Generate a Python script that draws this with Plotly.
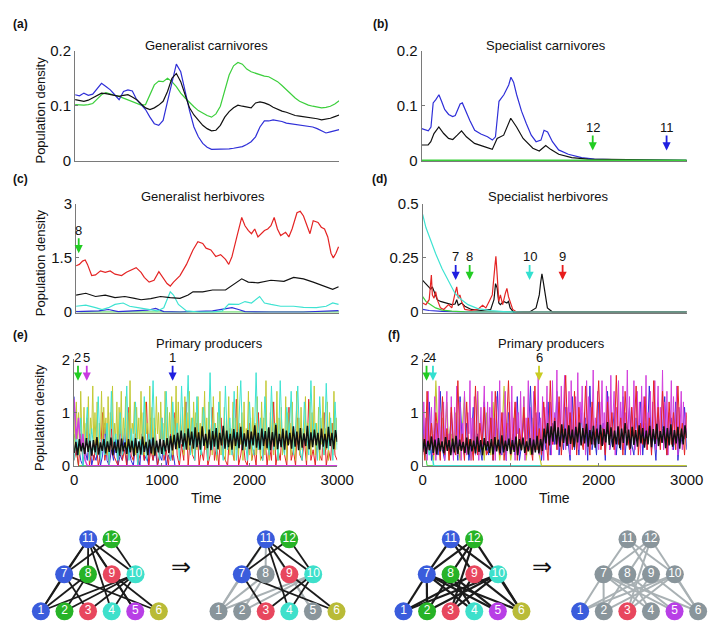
import numpy as np
import plotly.graph_objects as go

W, H = 720, 621

# ------------------------------------------------------------------ data
# (a) Generalist carnivores, t step 50
t_a = list(range(0, 3001, 50))
blue_a = [0.120,0.118,0.123,0.119,0.121,0.130,0.141,0.135,0.129,0.120,0.111,0.126,0.129,0.127,0.111,0.102,0.093,0.079,0.067,0.064,
          0.073,0.108,0.144,0.176,0.162,0.126,0.091,0.061,0.043,0.031,0.024,0.020,0.020,0.020,0.021,0.021,0.022,0.023,0.025,0.029,
          0.034,0.043,0.061,0.072,0.072,0.074,0.073,0.071,0.068,0.067,0.066,0.065,0.064,0.063,0.061,0.058,0.054,0.050,0.052,0.054,0.056]
green_a = [0.102,0.101,0.101,0.102,0.104,0.112,0.120,0.124,0.121,0.119,0.117,0.114,0.111,0.108,0.105,0.101,0.102,0.120,0.138,0.145,
           0.144,0.150,0.144,0.135,0.123,0.114,0.105,0.098,0.091,0.086,0.082,0.079,0.085,0.099,0.126,0.156,0.173,0.179,0.176,0.167,
           0.162,0.159,0.156,0.154,0.153,0.149,0.144,0.137,0.129,0.121,0.114,0.108,0.104,0.101,0.099,0.097,0.096,0.097,0.099,0.103,0.109]
black_a = [0.111,0.110,0.108,0.110,0.114,0.119,0.123,0.122,0.120,0.118,0.117,0.119,0.120,0.116,0.111,0.103,0.096,0.093,0.096,0.101,
           0.108,0.126,0.150,0.159,0.144,0.120,0.096,0.083,0.073,0.064,0.058,0.054,0.055,0.064,0.079,0.089,0.096,0.101,0.099,0.097,
           0.096,0.105,0.107,0.105,0.102,0.097,0.093,0.090,0.088,0.085,0.082,0.081,0.080,0.078,0.077,0.076,0.074,0.075,0.077,0.080,0.083]

# (b) Specialist carnivores
t_blue_b = [0,50,75,105,130,160,195,225,260,305,350,380,405,435,460,490,545,600,670,745,800,835,875,930,985,1010,1040,1075,
            1130,1185,1240,1295,1350,1385,1425,1480,1550,1660,1810,1955,2250,3000]
blue_b = [0.058,0.055,0.054,0.061,0.105,0.111,0.120,0.108,0.093,0.084,0.080,0.082,0.093,0.103,0.105,0.093,0.073,0.055,0.048,0.043,
          0.037,0.043,0.108,0.120,0.138,0.152,0.143,0.120,0.090,0.067,0.046,0.034,0.037,0.055,0.052,0.034,0.019,0.011,0.005,0.002,0.001,0.0]
t_black_b = [0,73,103,139,194,249,304,352,403,451,506,598,708,799,854,928,1008,1074,1148,1258,1331,1404,1459,1551,1698,1881,3000]
black_b = [0.028,0.028,0.034,0.049,0.061,0.049,0.040,0.038,0.046,0.054,0.043,0.031,0.025,0.020,0.040,0.046,0.077,0.061,0.040,
           0.022,0.017,0.027,0.020,0.011,0.005,0.002,0.0]
t_green_b = [0, 3000]
green_b = [0.0, 0.0]

# (c) Generalist herbivores
t_red_c = [0,37,74,104,130,178,222,278,333,389,444,519,574,648,685,741,778,833,889,944,1000,1037,1074,1111,1185,1259,1333,
           1389,1444,1482,1537,1593,1648,1704,1741,1778,1833,1889,1926,1963,2000,2037,2074,2111,2148,2185,2222,2259,2296,2333,
           2389,2426,2463,2519,2556,2593,2630,2667,2704,2759,2796,2833,2870,2907,2933,2963,2993]
red_c = [1.28,1.32,1.41,1.44,1.32,1.01,1.03,1.14,1.10,1.14,1.05,1.01,1.10,1.19,1.23,1.10,0.96,0.83,0.88,1.12,0.92,0.79,0.72,0.83,
         1.01,1.32,1.72,1.95,1.90,1.77,1.72,1.54,1.59,1.46,1.32,1.54,2.08,2.62,2.39,2.26,2.17,2.30,2.08,2.17,2.26,2.30,2.39,2.62,
         2.30,2.12,2.21,2.08,2.30,2.75,2.79,2.66,2.39,2.17,2.53,2.48,2.35,2.30,2.08,1.63,1.50,1.63,1.81]
t_black_c = [0,111,222,333,444,556,667,741,852,963,1074,1185,1278,1333,1444,1556,1704,1815,1889,1963,2074,2222,2370,2481,2593,
             2704,2815,2926,2993]
black_c = [0.47,0.52,0.43,0.47,0.40,0.43,0.38,0.34,0.37,0.43,0.40,0.38,0.47,0.56,0.56,0.61,0.61,0.79,0.92,0.83,0.81,0.88,0.85,
           0.96,0.92,0.83,0.74,0.63,0.70]
t_cyan_c = [0,111,222,296,370,444,537,611,704,815,926,1000,1037,1074,1111,1167,1259,1407,1556,1667,1741,1852,1926,2000,2093,
            2148,2222,2333,2481,2593,2741,2852,2926,2993]
cyan_c = [0.16,0.19,0.12,0.07,0.12,0.21,0.25,0.16,0.12,0.07,0.03,0.12,0.34,0.56,0.47,0.21,0.03,0.0,0.0,0.03,0.22,0.21,0.29,0.25,
          0.43,0.25,0.21,0.16,0.16,0.13,0.12,0.16,0.25,0.21]
t_blue_c = [0,259,370,480,815,907,1000,1185,1556,1778,1852,1926,2222,2593,2993]
blue_c = [0.01,0.03,0.07,0.01,0.05,0.10,0.01,0.0,0.03,0.12,0.07,0.01,0.0,0.0,0.04]
t_green_c = [0, 60, 3000]
green_c = [0.02, 0.0, 0.0]

# (d) Specialist herbivores
t_cyan_d = [0,37,92,147,221,294,368,442,515,626,773,957,1141,3000]
cyan_d = [0.451,0.39,0.33,0.27,0.20,0.14,0.086,0.057,0.034,0.016,0.007,0.001,0.0,0.0]
t_black_d = [0,37,74,92,110,129,166,202,258,331,368,387,405,442,479,552,663,773,810,828,847,865,883,920,957,975,994,1031,
             1141,1215,1288,1325,1340,1355,1370,1380,1417,1472,1620,3000]
black_d = [0.146,0.131,0.116,0.106,0.116,0.094,0.057,0.049,0.042,0.034,0.037,0.057,0.031,0.042,0.027,0.012,0.007,0.012,0.057,
           0.131,0.109,0.042,0.034,0.049,0.042,0.049,0.019,0.001,0.0,0.0,0.019,0.079,0.135,0.176,0.140,0.109,0.019,0.001,0.0,0.0]
t_red_d = [0,37,74,92,99,110,129,147,166,202,239,294,331,368,387,405,423,442,479,552,626,681,718,755,791,821,832,847,865,883,
           909,939,957,975,994,1023,1067,3000]
red_d = [0.042,0.034,0.057,0.131,0.171,0.079,0.064,0.094,0.057,0.019,0.012,0.034,0.019,0.086,0.116,0.064,0.079,0.049,0.012,
         0.007,0.012,0.031,0.019,0.049,0.079,0.213,0.257,0.168,0.049,0.079,0.034,0.086,0.109,0.071,0.049,0.012,0.0,0.0]
t_green_d = [0,37,92,147,221,331,479,700,3000]
green_d = [0.071,0.049,0.034,0.019,0.009,0.004,0.001,0.0,0.0]
t_blue_d = [0,74,221,400,3000]
blue_d = [0.012,0.007,0.003,0.0,0.0]

# (e) Primary producers (left web); sampled every 12.5, 25 and 20 time units
t12 = [i * 12.5 for i in range(241)]
t25 = list(range(0, 3001, 25))
t20 = list(range(0, 3001, 20))
olive_e = [0.9,0.3,1.2,0.5,1.0,0.2,1.4,0.6,0.4,1.1,0.3,0.8,0.5,1.3,0.2,0.9,0.6,1.5,0.3,1.0,
           0.4,1.2,0.2,0.8,0.5,1.4,0.3,1.1,0.6,0.9,0.2,1.3,0.4,1.0,0.7,1.5,0.3,0.8,0.5,1.2,
           0.2,1.1,0.6,1.4,0.3,0.9,0.5,1.3,0.2,1.0,0.4,1.6,0.3,0.8,0.6,1.2,0.2,1.1,0.5,0.9,
           0.3,1.4,0.4,1.0,0.2,1.2,0.6,0.8,0.3,1.5,0.5,1.1,0.2,0.9,0.4,1.3,0.6,1.0,0.3,1.2,
           0.5,0.8,0.2,1.4,0.4,1.1,0.3,1.0,0.6,1.3,0.2,0.9,0.5,1.5,0.3,1.2,0.4,0.8,0.6,1.1,
           0.2,1.3,0.4,1.0,0.3,1.4,0.5,0.9,0.2,1.2,0.6,1.0,0.3,1.3,0.4,0.8,0.2,1.1,0.5,1.4,
           0.3,0.9,0.1,1.2,0.4,0.7,0.2,1.3,0.5,0.8,0.1,1.0,0.3,1.4,0.2,0.6,0.4,1.1,0.1,0.9,
           0.3,1.3,0.2,0.7,0.5,1.2,0.1,0.9,0.3,1.5,0.2,0.8,0.4,1.0,0.1,1.2,0.3,0.7,0.5,1.4,
           0.2,0.9,0.1,1.1,0.4,0.8,0.2,1.3,0.3,0.6,0.1,1.2,0.5,0.9,0.2,1.6,0.3,0.7,0.1,1.0,
           0.4,1.2,0.2,0.8,0.3,1.4,0.1,0.9,0.5,1.1,0.2,0.7,0.3,1.3,0.1,1.0,0.4,0.8,0.2,1.2,
           0.3,0.6,0.1,1.4,0.4,0.9,0.2,1.1,0.3,0.7,0.5,1.3,0.1,0.8,0.3,1.2,0.2,1.0,0.4,1.5,
           0.2,0.8,0.3,1.1,0.1,0.9,0.4,1.3,0.2,0.7,0.3,1.2,0.1,1.0,0.5,0.8,0.2,1.4,0.3,0.9, 0.4]
cyan_e = [0.1,0.6,0.2,0.9,0.0,0.4,1.1,0.1,0.7,0.3, 0.2,1.3,0.1,0.5,0.2,0.8,0.0,1.4,0.3,0.6,
          0.1,1.0,0.2,0.4,1.5,0.1,0.7,0.3,1.2,0.0, 0.5,0.2,1.3,0.1,0.6,0.3,1.6,0.2,0.4,0.1,
          0.9,0.2,1.4,0.3,0.1,1.2,0.4,0.8,0.1,1.5, 0.3,0.6,1.7,0.2,0.9,0.1,1.3,0.4,0.2,1.1,
          0.6,0.1,1.75,0.3,0.8,0.2,1.2,0.5,0.1,1.5, 0.3,0.9,0.2,1.4,0.1,0.7,1.6,0.3,0.5,0.1,
          1.2,0.4,0.2,1.75,0.3,0.9,0.1,1.3,0.6,0.2, 1.5,0.3,0.8,0.1,1.6,0.4,0.2,1.1,0.5,1.4,
          0.2,0.7,1.5,0.3,0.1,1.2,0.6,0.2,1.6,0.4, 0.8,0.1,1.3,0.5,0.2,1.55,0.3,0.9,0.1,1.2, 0.3]
red_e = [0.1,0.3,0.0,0.6,0.1,0.2,0.9,0.0,0.3,0.1, 0.5,0.0,0.2,1.0,0.1,0.4,0.0,0.7,0.2,0.1,
         0.0,0.8,0.1,0.3,0.0,1.1,0.2,0.1,0.6,0.0, 0.2,0.4,0.1,1.2,0.0,0.3,0.1,0.7,0.0,0.2,
         0.9,0.1,0.3,0.0,0.6,0.1,1.0,0.2,0.0,0.4, 0.1,1.2,0.0,0.5,0.2,0.1,0.8,0.0,0.3,0.1,
         0.6,0.0,0.2,1.1,0.1,0.4,0.0,0.9,0.2,0.1, 0.0,0.7,0.3,0.1,1.25,0.0,0.2,0.5,0.1,0.0,
         0.8,0.1,0.3,0.0,1.0,0.2,0.1,0.6,0.0,0.4, 0.1,1.2,0.0,0.3,0.1,0.7,0.2,0.0,1.1,0.1,
         0.3,0.0,0.9,0.2,0.1,0.5,0.0,1.25,0.1,0.3, 0.0,0.6,0.2,0.1,1.0,0.0,0.3,0.1,0.8,0.2, 0.1]
t_blue_e = list(range(0, 1151, 25)) + [3000]
blue_e = [1.3,0.2,0.4,0.1,0.0,0.3,0.1,0.6,0.0,0.2, 0.1,0.4,0.0,0.2,0.8,0.1,0.0,0.3,0.1,0.5,
          0.0,0.2,0.1,0.7,0.0,0.3,0.1,0.0,0.4,0.2, 0.0,0.6,0.1,0.2,0.0,0.9,0.1,0.3,0.0,0.2,
          0.1,0.5,0.0,0.2,0.1,0.3,0.0, 0.0]
t_magenta_e = [0,25,50,75,100,125,150,3000]
magenta_e = [1.25,0.5,0.9,0.3,0.6,0.1,0.0,0.0]
t_green_e = [0,25,50,3000]
green_e = [0.6,0.3,0.0,0.0]
black_e = [0.24,0.45,0.20,0.50,0.27,0.43,0.22,0.52,0.26,0.47, 0.19,0.48,0.25,0.54,0.21,0.44,0.28,0.50,0.23,0.46,
           0.26,0.53,0.20,0.45,0.24,0.49,0.19,0.51,0.27,0.44, 0.22,0.50,0.25,0.47,0.18,0.52,0.24,0.46,0.21,0.55,
           0.26,0.45,0.20,0.49,0.23,0.53,0.19,0.47,0.25,0.50, 0.22,0.48,0.27,0.52,0.24,0.56,0.29,0.58,0.31,0.62,
           0.33,0.66,0.36,0.61,0.30,0.70,0.38,0.64,0.32,0.72, 0.35,0.63,0.30,0.74,0.37,0.60,0.33,0.68,0.29,0.65,
           0.36,0.71,0.31,0.62,0.38,0.75,0.32,0.66,0.35,0.60, 0.30,0.69,0.37,0.63,0.33,0.73,0.29,0.61,0.36,0.67,
           0.31,0.64,0.38,0.76,0.34,0.62,0.30,0.70,0.37,0.65, 0.33,0.72,0.29,0.63,0.36,0.77,0.31,0.60,0.35,0.69,
           0.30,0.66,0.38,0.62,0.32,0.74,0.36,0.64,0.29,0.71, 0.34,0.61,0.37,0.75,0.31,0.63,0.35,0.68,0.38,0.62,
           0.30,0.70,0.36,0.60,0.33,0.73,0.37,0.62,0.31,0.67, 0.45]

# (f) Primary producers (right web)
magenta_f = [0.2,1.2,0.4,0.9,0.1,1.4,0.3,0.7,1.1,0.2,0.6,1.3,0.1,0.8,0.4,1.5,0.2,1.0,0.3,1.2,
             0.1,0.9,1.4,0.3,0.6,0.2,1.3,0.5,0.1,1.1,0.4,1.5,0.2,0.7,1.2,0.1,0.8,0.3,1.4,0.5,
             0.2,1.0,0.6,1.6,0.1,0.9,0.3,1.3,0.2,0.7,1.4,0.1,0.5,1.1,0.3,0.8,1.5,0.4,0.2,1.2,
             0.3,1.1,0.5,1.4,0.2,0.9,0.1,1.3,0.4,0.7,1.6,0.2,0.6,1.0,0.3,1.4,0.1,0.8,0.5,1.2,
             0.2,1.5,0.3,0.9,0.1,1.2,0.6,1.0,0.2,1.4,0.4,0.7,1.3,0.1,0.9,0.5,1.6,0.3,1.1,0.2,
             0.8,1.4,0.3,1.0,0.5,1.7,0.2,0.9,0.4,1.3,0.1,1.1,0.6,1.5,0.3,0.8,1.2,0.2,1.6,0.4,
             1.0,0.5,1.8,0.3,1.2,0.6,1.5,0.4,0.9,1.7,0.3,1.1,0.7,1.4,0.2,1.6,0.5,1.0,0.4,1.3,
             0.6,1.75,0.3,1.2,0.8,1.5,0.4,1.0,0.2,1.6,0.6,1.3,0.3,1.1,0.7,1.8,0.4,0.9,0.5,1.4,
             0.3,1.2,0.7,1.6,0.4,1.0,0.2,1.5,0.6,1.3,0.3,1.7,0.5,0.9,1.4,0.2,1.1,0.6,1.6,0.4,
             1.2,0.5,1.5,0.3,1.0,0.7,1.8,0.4,1.3,0.2,1.1,0.6,1.6,0.3,0.9,1.4,0.5,1.2,0.2,1.5,
             0.6,1.3,0.4,1.7,0.3,1.0,0.7,1.4,0.2,1.2,0.5,1.6,0.3,0.9,1.5,0.4,1.1,0.6,1.8,0.3,
             1.2,0.5,1.4,0.2,1.0,0.6,1.6,0.3,1.3,0.4,0.9,1.5,0.2,1.1,0.7,1.4,0.3,1.2,0.5,1.0, 0.6]
red_f = [0.6,0.1,1.4,0.3,0.8,0.2,1.0,0.5,0.1,1.3, 0.2,0.7,0.1,1.1,0.4,0.2,1.6,0.3,0.6,0.1,
         1.2,0.3,0.5,0.1,1.5,0.2,0.8,0.4,1.1,0.2, 0.3,0.9,0.1,1.4,0.5,0.2,1.0,0.1,0.6,1.6,
         0.2,0.5,1.2,0.1,0.7,0.3,1.1,0.2,0.9,0.4, 0.1,1.5,0.3,0.7,0.2,1.2,0.5,0.1,1.6,0.4,
         0.9,0.3,1.3,0.2,0.7,1.7,0.4,1.0,0.3,1.4, 0.2,1.1,0.5,0.3,1.5,0.6,0.2,1.2,0.4,0.8,
         1.6,0.3,0.7,0.2,1.2,0.5,1.0,0.3,1.7,0.4, 0.9,0.2,1.4,0.6,0.3,1.1,0.5,1.5,0.2,0.8,
         0.4,1.3,0.3,0.9,0.2,1.6,0.5,1.1,0.3,1.4, 0.6,0.2,1.2,0.4,1.0,0.3,1.5,0.5,0.8,0.2, 1.0]
blue_f = [0.9,0.2,0.5,1.2,0.1,0.4,0.8,0.2,1.4,0.3, 0.1,0.6,0.3,1.0,0.2,0.5,0.1,1.3,0.4,0.2,
          0.8,0.1,0.4,1.1,0.2,0.6,0.3,0.1,1.2,0.4, 0.2,0.9,0.1,0.5,1.4,0.3,0.2,0.7,0.1,1.0,
          0.3,0.6,0.2,1.3,0.1,0.4,0.9,0.2,0.5,1.5, 0.2,0.7,0.4,1.0,0.1,0.6,0.3,1.2,0.2,0.8,
          0.4,1.4,0.2,0.6,0.3,1.1,0.5,0.1,1.3,0.3, 0.7,0.2,1.0,0.4,0.9,0.1,1.5,0.3,0.6,0.2,
          1.2,0.4,0.8,0.1,1.4,0.3,0.5,1.0,0.2,0.7, 0.3,1.3,0.2,0.6,1.1,0.4,0.2,0.9,0.5,1.2,
          0.2,0.8,0.4,1.5,0.3,0.6,0.1,1.0,0.4,0.7, 1.3,0.2,0.5,0.9,0.3,1.2,0.1,0.6,0.4,1.1, 0.3]
t_olive_f = list(range(0, 1351, 25)) + [3000]
olive_f = [0.5,0.2,1.1,0.3,0.8,0.1,1.6,0.4,0.2,0.9, 0.3,1.2,0.1,0.6,0.2,1.0,0.4,0.1,0.7,1.3,
           0.2,0.5,0.1,0.9,0.3,1.4,0.2,0.6,0.1,1.0, 0.4,0.2,1.2,0.3,0.7,0.1,0.5,1.5,0.2,0.8,
           0.1,0.4,1.1,0.2,0.6,0.3,1.3,0.1,0.5,0.2, 0.9,0.3,1.0,0.2,0.0, 0.0]
t_cyan_f = [0,25,50,75,100,125,3000]
cyan_f = [1.0,0.4,0.7,0.2,0.3,0.0,0.0]
t_green_f = [0,25,50,3000]
green_f = [0.8,0.3,0.0,0.0]
black_f = [0.26,0.50,0.22,0.47,0.29,0.55,0.24,0.49,0.21,0.52, 0.27,0.46,0.23,0.54,0.28,0.48,0.20,0.51,0.25,0.56,
           0.22,0.49,0.28,0.45,0.24,0.53,0.21,0.50,0.27,0.47, 0.23,0.55,0.26,0.48,0.20,0.52,0.29,0.46,0.24,0.50,
           0.21,0.54,0.27,0.49,0.23,0.57,0.25,0.47,0.28,0.51, 0.22,0.48,0.26,0.55,0.20,0.50,0.29,0.53,0.24,0.46,
           0.27,0.52,0.21,0.49,0.25,0.56,0.23,0.50,0.28,0.70, 0.42,0.80,0.38,0.74,0.45,0.84,0.40,0.72,0.36,0.78,
           0.43,0.70,0.37,0.76,0.41,0.68,0.35,0.73,0.44,0.81, 0.38,0.71,0.42,0.79,0.36,0.67,0.40,0.75,0.34,0.70,
           0.41,0.77,0.37,0.69,0.44,0.82,0.39,0.72,0.35,0.66, 0.40,0.74,0.33,0.70,0.43,0.80,0.38,0.68,0.32,0.73,
           0.39,0.67,0.36,0.76,0.42,0.71,0.34,0.66,0.40,0.75, 0.35,0.69,0.41,0.79,0.37,0.65,0.43,0.74,0.33,0.71,
           0.38,0.78,0.36,0.67,0.42,0.73,0.32,0.70,0.40,0.76, 0.52]

# extinction markers: (label, time, colour key)
arrows_b = [("12", 1936, "green"), ("11", 2772, "blue")]
arrows_c = [("8", 30, "green")]
arrows_d = [("7", 375, "blue"), ("8", 534, "green"), ("10", 1215, "cyan"), ("9", 1590, "red")]
arrows_e = [("2", 44, "green"), ("5", 144, "magenta"), ("1", 1123, "blue")]
arrows_f = [("2", 44, "green"), ("4", 117, "cyan"), ("6", 1322, "olive")]

# food webs
web_left = [(11,7),(11,8),(11,9),(11,10),(11,1),(11,4),(11,5),(12,7),(12,10),(7,1),(7,3),(7,6),
            (8,1),(8,2),(9,5),(9,6),(10,1),(10,2),(10,3),(10,4)]
web_right = [(11,7),(11,9),(11,10),(12,7),(12,8),(12,3),(12,6),(7,1),(7,2),(7,4),(7,5),(7,6),
             (8,2),(8,4),(8,5),(9,1),(9,3),(9,6),(10,1),(10,2),(10,3),(10,6)]
alive_left_after = [3,4,6,7,9,10,11,12]
alive_right_after = [1,3,5]

# ------------------------------------------------------------------ styles
LC = dict(blue="#2f2fd8", green="#3ccf3c", black="#111111", red="#e42424", cyan="#3fe3d2",
          magenta="#d23fdc", olive="#c3c935")
AC = dict(blue="#1f1fe0", green="#22cc22", red="#e81c1c", cyan="#33e0d0", magenta="#c83ae0", olive="#c9cc22")
NODE_C = {1:"#3a5cdc",2:"#27b327",3:"#e8475e",4:"#3ee0cb",5:"#b83fe6",6:"#b9bb37",
          7:"#3a5cdc",8:"#27b327",9:"#e8475e",10:"#3ee0cb",11:"#3a5cdc",12:"#27b327"}
GRAY_NODE = "#89959b"
FONT = "Arial, Liberation Sans, sans-serif"
AXC = "#7a7a7a"

fig = go.Figure()

panels = {
    1: dict(x=(65, 337), y=(35, 148), yr=(0, 0.2), tv=[0, 0.1, 0.2], tt=["0", "0.1", "0.2"], xt=False),
    2: dict(x=(422, 695), y=(35, 148), yr=(0, 0.2), tv=[0, 0.1, 0.2], tt=["0", "0.1", "0.2"], xt=False),
    3: dict(x=(66, 337), y=(192, 304), yr=(0, 3), tv=[0, 1.5, 3], tt=["0", "1.5", "3"], xt=False),
    4: dict(x=(423, 695), y=(192, 304), yr=(0, 0.5), tv=[0, 0.25, 0.5], tt=["0", "0.25", "0.5"], xt=False),
    5: dict(x=(64, 335), y=(352, 462), yr=(0, 2), tv=[0, 1, 2], tt=["0", "1", "2"], xt=True),
    6: dict(x=(423, 695), y=(352, 462), yr=(0, 2), tv=[0, 1, 2], tt=["0", "1", "2"], xt=True),
}

def ax_names(i):
    return ("x" if i == 1 else f"x{i}", "y" if i == 1 else f"y{i}")

for i, p in panels.items():
    xn, yn = ax_names(i)
    xk = "xaxis" if i == 1 else f"xaxis{i}"
    yk = "yaxis" if i == 1 else f"yaxis{i}"
    lo, hi = p["yr"]
    pad = (hi - lo) * 0.006
    fig.layout[xk] = dict(domain=[p["x"][0] / W, p["x"][1] / W], range=[0, 3000], anchor=yn,
                          showgrid=False, zeroline=False, showline=True, linecolor=AXC, linewidth=1,
                          ticks="inside" if p["xt"] else "", ticklen=3, tickcolor=AXC,
                          showticklabels=p["xt"], tickvals=[0, 1000, 2000, 3000],
                          ticktext=["0", "1000", "2000", "3000"],
                          tickfont=dict(family=FONT, size=15, color="#111"), fixedrange=True)
    fig.layout[yk] = dict(domain=[1 - p["y"][1] / H, 1 - p["y"][0] / H], range=[lo - pad, hi], anchor=xn,
                          showgrid=False, zeroline=False, showline=True, linecolor=AXC, linewidth=1,
                          ticks="inside", ticklen=3, tickcolor=AXC, tickvals=p["tv"], ticktext=p["tt"],
                          tickfont=dict(family=FONT, size=15, color="#111"), fixedrange=True)

def add(i, xs, ys, color, width=1.2):
    xn, yn = ax_names(i)
    fig.add_trace(go.Scatter(x=xs, y=ys, mode="lines", xaxis=xn, yaxis=yn,
                             line=dict(color=color, width=width), hoverinfo="skip", showlegend=False))

# (a)
add(1, t_a, green_a, LC["green"])
add(1, t_a, blue_a, LC["blue"])
add(1, t_a, black_a, LC["black"])
# (b)
add(2, t_blue_b, blue_b, LC["blue"])
add(2, t_black_b, black_b, LC["black"])
add(2, t_green_b, green_b, LC["green"], 1.5)
# (c)
add(3, t_green_c, green_c, LC["green"])
add(3, t_blue_c, blue_c, LC["blue"])
add(3, t_cyan_c, cyan_c, LC["cyan"])
add(3, t_black_c, black_c, LC["black"])
add(3, t_red_c, red_c, LC["red"])
# (d)
add(4, t_blue_d, blue_d, LC["blue"])
add(4, t_green_d, green_d, LC["green"])
add(4, t_black_d, black_d, LC["black"])
add(4, t_red_d, red_d, LC["red"])
add(4, t_cyan_d, cyan_d, LC["cyan"])
# (e)
add(5, t_green_e, green_e, LC["green"], 1)
add(5, t_blue_e, blue_e, LC["blue"], 1)
add(5, t25, red_e, LC["red"], 1)
add(5, t12, olive_e, LC["olive"], 1)
add(5, t25, cyan_e, LC["cyan"], 1)
add(5, t_magenta_e, magenta_e, LC["magenta"], 1.5)
add(5, t20, black_e, LC["black"], 1.5)
# (f)
add(6, t_green_f, green_f, LC["green"], 1)
add(6, t_cyan_f, cyan_f, LC["cyan"], 1.5)
add(6, t_olive_f, olive_f, LC["olive"], 1.2)
add(6, t25, blue_f, LC["blue"], 1)
add(6, t12, magenta_f, LC["magenta"], 1)
add(6, t25, red_f, LC["red"], 1)
add(6, t20, black_f, LC["black"], 1.5)

annotations = []

def arrows(i, items, yhead):
    xn, yn = ax_names(i)
    for lab, t, ck in items:
        annotations.append(dict(x=t, y=yhead, xref=xn, yref=yn, text=lab, showarrow=True,
                                arrowhead=2, arrowsize=0.9, arrowwidth=1.8, arrowcolor=AC[ck],
                                ax=0, ay=-23, standoff=0, borderpad=0,
                                font=dict(family=FONT, size=13, color="#111")))

arrows(2, arrows_b, 0.018)
arrows(3, arrows_c, 1.63)
arrows(4, arrows_d, 0.148)
arrows(5, arrows_e, 1.60)
arrows(6, arrows_f, 1.60)

def paper_text(txt, x, y, size=13, bold=False, angle=0):
    annotations.append(dict(x=x / W, y=1 - y / H, xref="paper", yref="paper", text=("<b>%s</b>" % txt) if bold else txt,
                            showarrow=False, textangle=angle, xanchor="center", yanchor="middle",
                            font=dict(family=FONT, size=size, color="#111")))

paper_text("Generalist carnivores", 200, 29)
paper_text("Specialist carnivores", 550, 29)
paper_text("Generalist herbivores", 197, 185)
paper_text("Specialist herbivores", 552, 185)
paper_text("Primary producers", 203, 336)
paper_text("Primary producers", 556, 336)
for lab, x, y in [("(a)", 9, 7), ("(b)", 380, 7), ("(c)", 9, 167), ("(d)", 379, 167), ("(e)", 9, 327), ("(f)", 393, 327)]:
    paper_text(lab, x, y, 12, bold=True)
for yc in (96, 253, 412):
    paper_text("Population density", 29, yc, 13, angle=-90)
paper_text("Time", 200, 495, 14)
paper_text("Time", 559, 495, 14)
paper_text("⇒", 174, 565, 24)
paper_text("⇒", 546, 565, 24)

# ------------------------------------------------------------------ networks
fig.layout["xaxis7"] = dict(domain=[0, 1], range=[0, W], visible=False, fixedrange=True, anchor="y7")
fig.layout["yaxis7"] = dict(domain=[0, 1 - 525 / H], range=[H, 525], visible=False, fixedrange=True, anchor="x7")

def node_pos(n, cx):
    if n <= 6:
        return cx + (n - 3.5) * 24.3, 611
    if n <= 10:
        return cx + (n - 8.5) * 24.5, 573
    return cx + (n - 11.5) * 24.0, 537

def draw_web(cx, edges, alive, ew):
    gx, gy, bx, by = [], [], [], []
    for a, b in edges:
        xa, ya = node_pos(a, cx)
        xb, yb = node_pos(b, cx)
        if a in alive and b in alive:
            bx += [xa, xb, None]; by += [ya, yb, None]
        else:
            gx += [xa, xb, None]; gy += [ya, yb, None]
    if gx:
        fig.add_trace(go.Scatter(x=gx, y=gy, mode="lines", xaxis="x7", yaxis="y7",
                                 line=dict(color="#a9b1b4", width=2), hoverinfo="skip", showlegend=False))
    if bx:
        fig.add_trace(go.Scatter(x=bx, y=by, mode="lines", xaxis="x7", yaxis="y7",
                                 line=dict(color="#1b1b1b", width=ew), hoverinfo="skip", showlegend=False))
    nodes = list(range(1, 13))
    xs = [node_pos(n, cx)[0] for n in nodes]
    ys = [node_pos(n, cx)[1] for n in nodes]
    cols = [NODE_C[n] if n in alive else GRAY_NODE for n in nodes]
    fig.add_trace(go.Scatter(x=xs, y=ys, mode="markers+text", xaxis="x7", yaxis="y7",
                             marker=dict(size=18, color=cols, line=dict(width=0)),
                             text=[str(n) for n in nodes], textposition="middle center",
                             textfont=dict(family=FONT, size=12, color="white"),
                             hoverinfo="skip", showlegend=False, cliponaxis=False))

all_nodes = list(range(1, 13))
draw_web(90.5, web_left, all_nodes, 1.8)
draw_web(273.5, web_left, alive_left_after, 1.8)
draw_web(464, web_right, all_nodes, 2.2)
draw_web(646, web_right, alive_right_after, 2.2)

fig.update_layout(width=W, height=H, margin=dict(l=0, r=0, t=0, b=0), paper_bgcolor="white",
                  plot_bgcolor="rgba(0,0,0,0)", showlegend=False, annotations=annotations,
                  font=dict(family=FONT))

fig.write_html("out.html")
